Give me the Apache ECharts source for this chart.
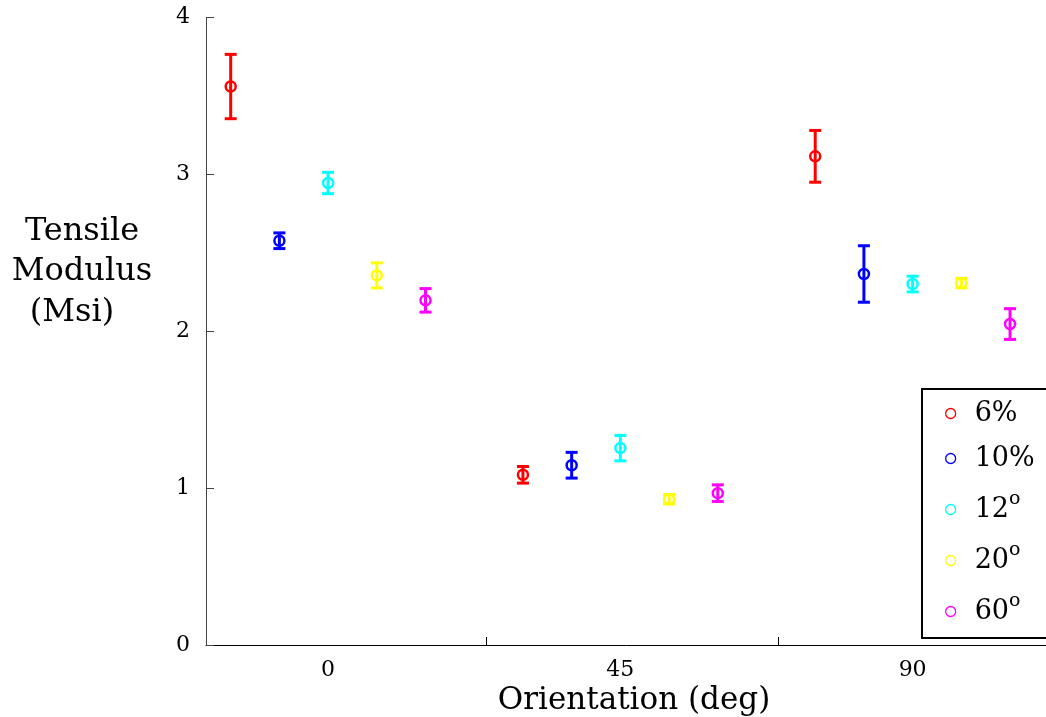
<!DOCTYPE html>
<html>
<head>
<meta charset="utf-8">
<script src="https://cdn.jsdelivr.net/npm/echarts@6/dist/echarts.min.js"></script>
<style>
  html, body { margin: 0; padding: 0; background: #fff; }
  #chart { width: 1046px; height: 717px; }
</style>
</head>
<body>
<div id="chart"></div>
<script>
// series names (legend) and colours
const categories = ['6%', '10%', '12°', '20°', '60°'];
const colors = ['#ff0000', '#0000ff', '#00ffff', '#ffff00', '#ff00ff'];

// fiber orientations and x offset of each series inside a group
const orientations = [0, 45, 90];
const offsets = [-15, -7.5, 0, 7.5, 15];

// tensile modulus (Msi) and error (+/-) per orientation
const mod6 = [3.56, 1.085, 3.115];
const err6 = [0.205, 0.053, 0.165];
const mod10 = [2.577, 1.146, 2.365];
const err10 = [0.05, 0.082, 0.18];
const mod12 = [2.945, 1.255, 2.301];
const err12 = [0.068, 0.081, 0.05];
const mod20 = [2.356, 0.929, 2.307];
const err20 = [0.08, 0.03, 0.03];
const mod60 = [2.197, 0.968, 2.046];
const err60 = [0.075, 0.053, 0.098];

// axis ticks
const xLabelValues = [0, 45, 90];
const xTickValues = [24.3, 69.3];

const modulus = [mod6, mod10, mod12, mod20, mod60];
const errors = [err6, err10, err12, err20, err60];

const FONT = 'DejaVu Serif';

const chart = echarts.init(document.getElementById('chart'));

const series = [];
categories.forEach(function (name, i) {
  const pts = orientations.map(function (o, j) {
    return [o + offsets[i], modulus[i][j], errors[i][j]];
  });
  // error bars
  series.push({
    type: 'custom',
    silent: true,
    data: pts,
    renderItem: function (params, api) {
      const x = api.value(0), y = api.value(1), e = api.value(2);
      const top = api.coord([x, y + e]);
      const bot = api.coord([x, y - e]);
      const st = { stroke: colors[i], lineWidth: 3 };
      return {
        type: 'group',
        children: [
          { type: 'line', shape: { x1: top[0], y1: top[1], x2: bot[0], y2: bot[1] }, style: st },
          { type: 'line', shape: { x1: top[0] - 6, y1: top[1], x2: top[0] + 6, y2: top[1] }, style: st },
          { type: 'line', shape: { x1: bot[0] - 6, y1: bot[1], x2: bot[0] + 6, y2: bot[1] }, style: st }
        ]
      };
    },
    z: 2
  });
  // circle markers
  series.push({
    name: name,
    type: 'scatter',
    symbol: 'circle',
    symbolSize: 10,
    data: pts.map(function (p) { return [p[0], p[1]]; }),
    itemStyle: { color: 'rgba(0,0,0,0)', borderColor: colors[i], borderWidth: 2.5, opacity: 1 },
    z: 3
  });
});

const option = {
  animation: false,
  backgroundColor: '#fff',
  grid: { left: 206, width: 856, top: 17.5, height: 627.5, outerBoundsMode: 'none', containLabel: false },
  xAxis: {
    type: 'value',
    min: -18.8,
    max: 113,
    name: 'Orientation (deg)',
    nameLocation: 'middle',
    nameGap: 37,
    nameTextStyle: { fontFamily: FONT, fontSize: 31, color: '#000', verticalAlign: 'top' },
    axisLine: { show: true, onZero: false, lineStyle: { color: '#000', width: 1 } },
    axisTick: { show: true, inside: true, length: 8, customValues: xTickValues, lineStyle: { color: '#000' } },
    axisLabel: { customValues: xLabelValues, fontFamily: FONT, fontSize: 22, color: '#000', margin: 14 },
    splitLine: { show: false }
  },
  yAxis: {
    type: 'value',
    min: 0,
    max: 4,
    interval: 1,
    axisLine: { show: true, onZero: false, lineStyle: { color: '#444', width: 1 } },
    axisTick: { show: true, inside: true, length: 8, lineStyle: { color: '#444' } },
    axisLabel: { fontFamily: FONT, fontSize: 22, color: '#000', margin: 16 },
    splitLine: { show: false }
  },
  legend: {
    orient: 'vertical',
    left: 922,
    top: 389,
    data: categories,
    itemWidth: 10,
    itemHeight: 10,
    itemGap: 18,
    padding: [11, 60, 13, 23],
    borderColor: '#000',
    borderWidth: 2,
    backgroundColor: '#fff',
    selectedMode: false,
    itemStyle: { borderWidth: 1.3 },
    formatter: function (name) { return name.replace('°', '{s|o}'); },
    textStyle: {
      fontFamily: FONT, fontSize: 27, color: '#000', padding: [0, 0, 0, 14],
      rich: {
        s: { fontFamily: FONT, fontSize: 19, color: '#000', verticalAlign: 'top', padding: [0, 0, 20, 0] }
      }
    }
  },
  graphic: [
    { type: 'text', x: 82, y: 232, style: { text: 'Tensile', font: '32px "' + FONT + '"', fill: '#000', align: 'center', verticalAlign: 'middle' } },
    { type: 'text', x: 82, y: 272, style: { text: 'Modulus', font: '32px "' + FONT + '"', fill: '#000', align: 'center', verticalAlign: 'middle' } },
    { type: 'text', x: 72, y: 313, style: { text: '(Msi)', font: '32px "' + FONT + '"', fill: '#000', align: 'center', verticalAlign: 'middle' } }
  ],
  series: series
};

chart.setOption(option);
</script>
</body>
</html>
